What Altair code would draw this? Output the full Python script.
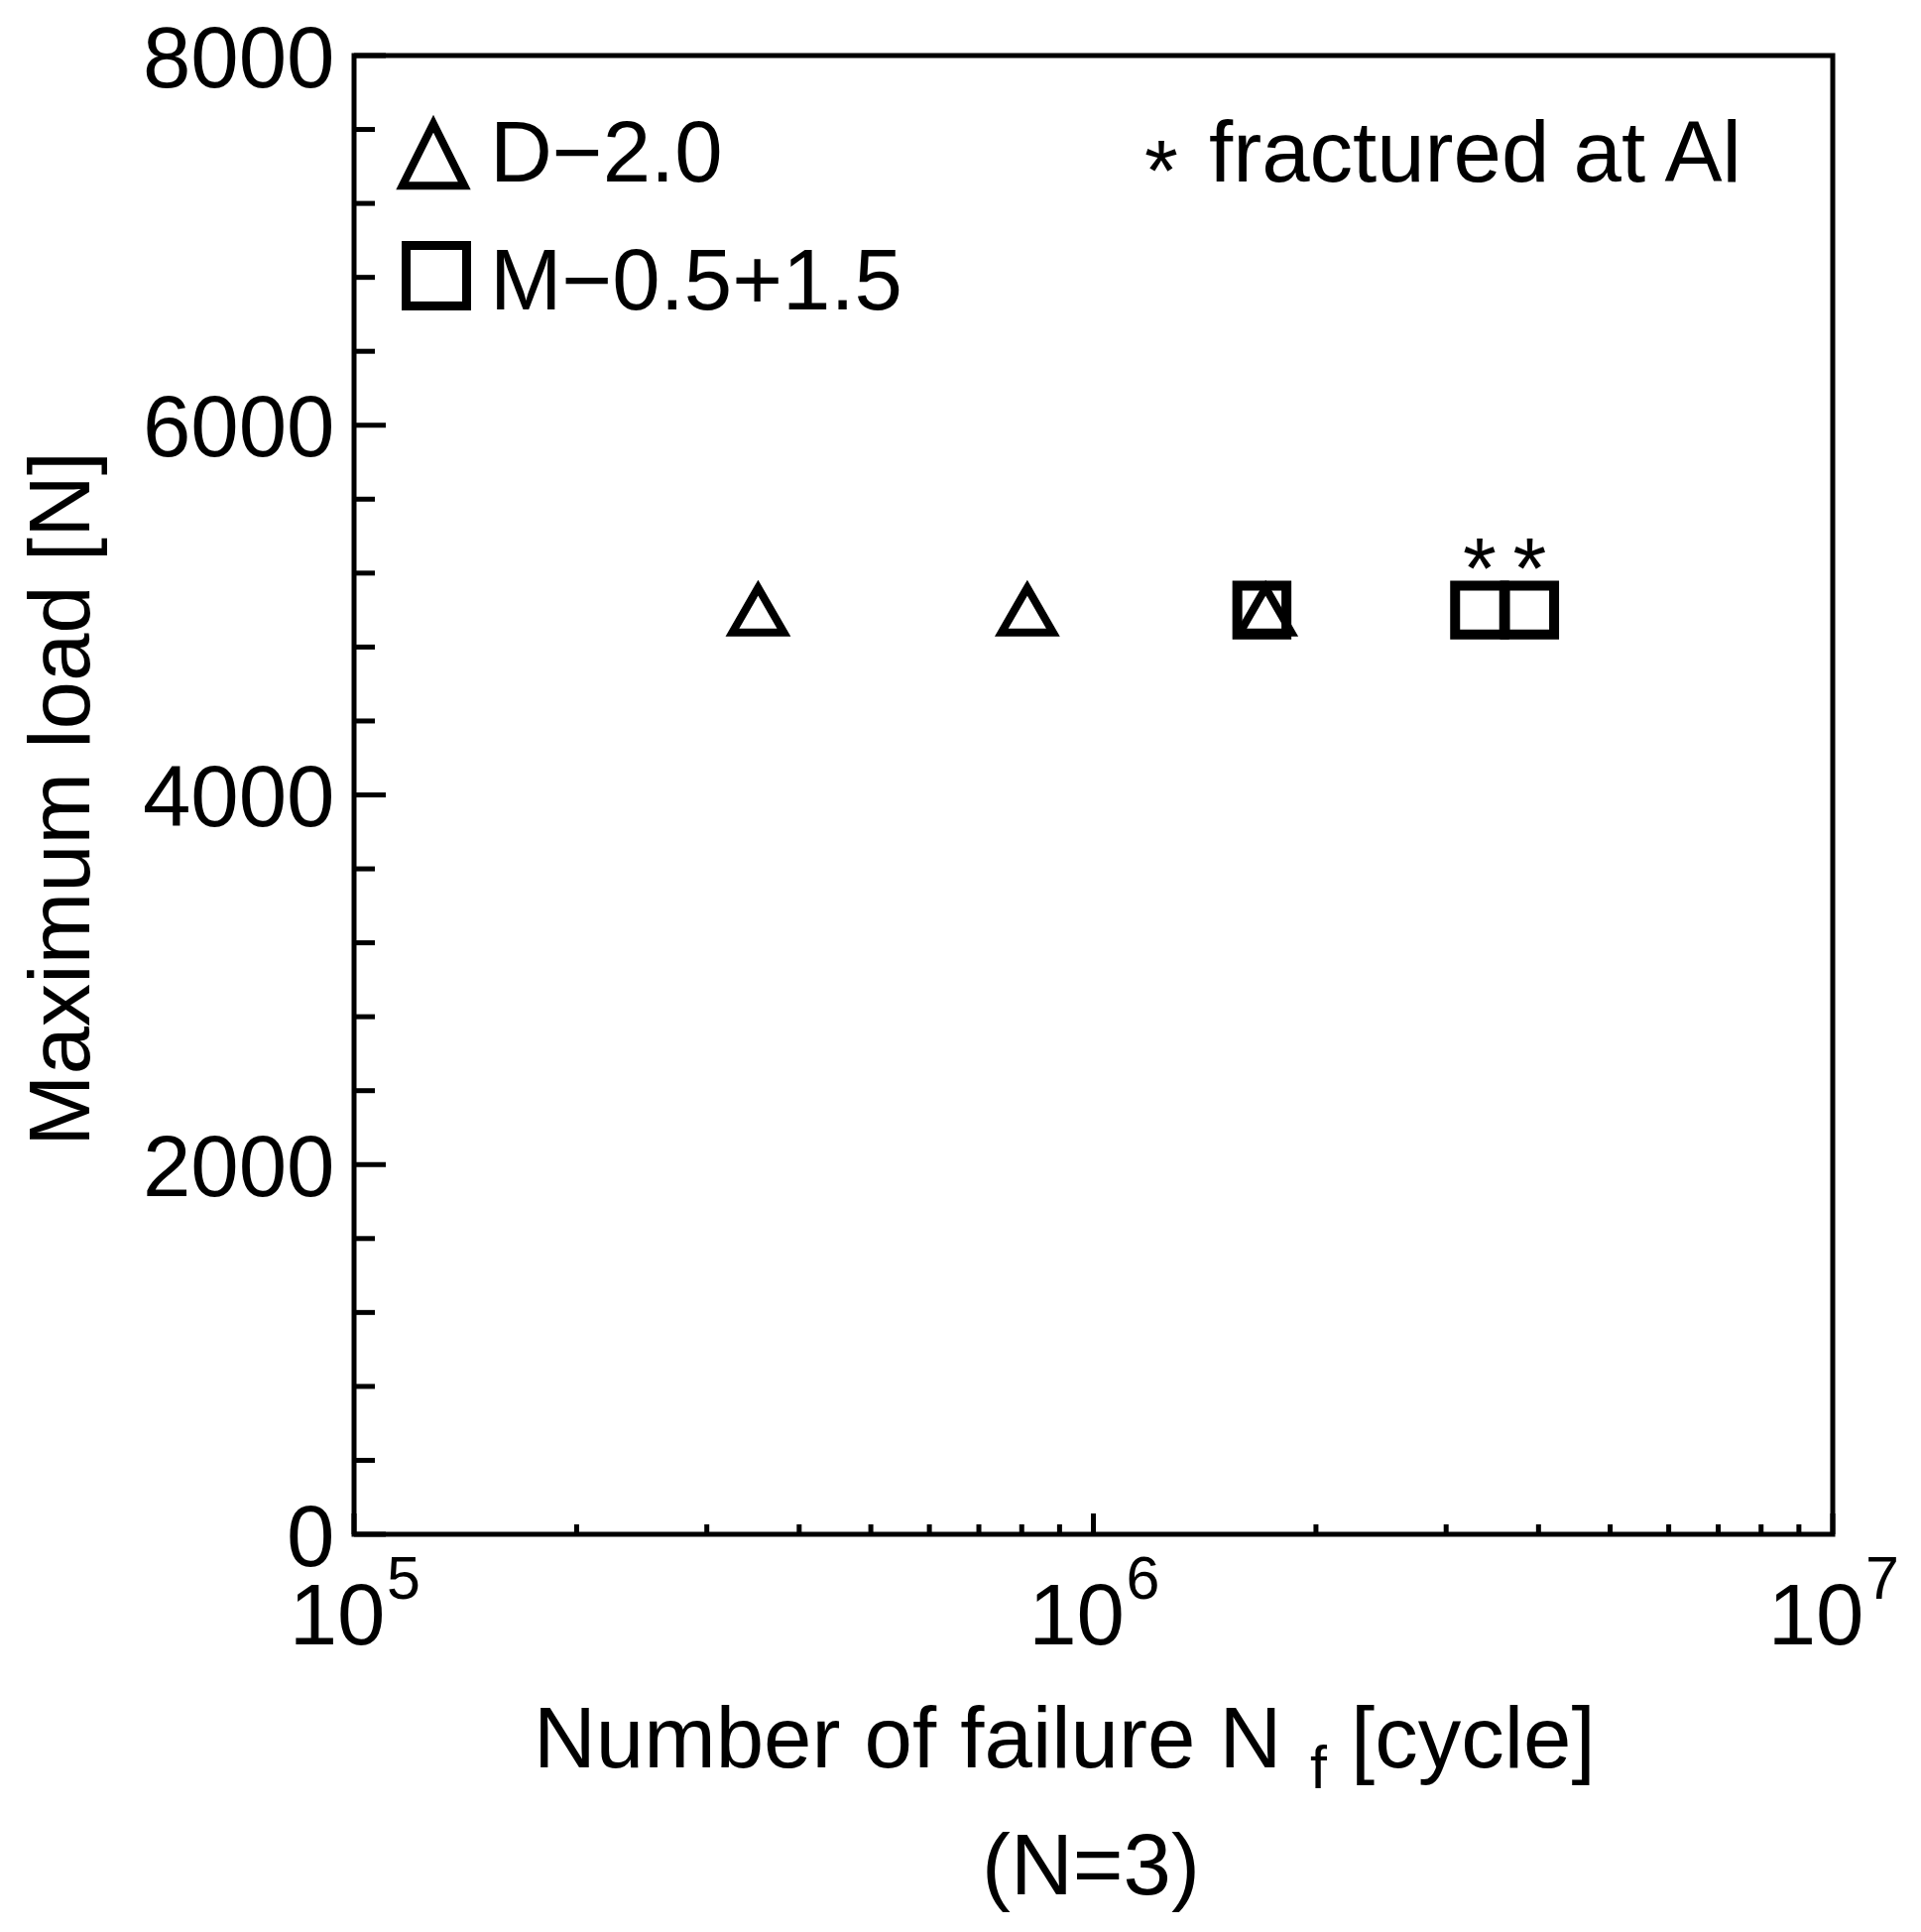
import altair as alt
import pandas as pd

FONT = "Liberation Sans"

# ---------------- data ----------------
d20_cycles = [3.52e5, 8.14e5, 1.71e6]
d20_load = [5000, 5000, 5000]
m_cycles = [1.69e6, 3.33e6, 3.89e6]
m_load = [5000, 5000, 5000]
m_fractured_al = [False, True, True]

x_major = [1e5, 1e6, 1e7]
x_exponents = ["5", "6", "7"]
x_minor = [2e5, 3e5, 4e5, 5e5, 6e5, 7e5, 8e5, 9e5,
           2e6, 3e6, 4e6, 5e6, 6e6, 7e6, 8e6, 9e6]
y_major = [0, 2000, 4000, 6000, 8000]
y_minor = [400, 800, 1200, 1600, 2400, 2800, 3200, 3600,
           4400, 4800, 5200, 5600, 6400, 6800, 7200, 7600]

legend_labels = ["D\u22122.0", "M\u22120.5+1.5"]
note_mark = "*"
note_text = "fractured at Al"
x_title_parts = ["Number of failure N", "f", "[cycle]"]
x_subtitle = "(N=3)"
y_title = "Maximum load [N]"

W = 1491
H = 1491

d20 = pd.DataFrame({"cycles": d20_cycles, "load": d20_load})
mm = pd.DataFrame({"cycles": m_cycles, "load": m_load, "al": m_fractured_al})
star_df = mm[mm["al"]].assign(star=note_mark)
xmaj = pd.DataFrame({"cycles": x_major, "exp": x_exponents})
xmin = pd.DataFrame({"cycles": x_minor})
ymaj = pd.DataFrame({"load": y_major})
ymin = pd.DataFrame({"load": y_minor})

xs = alt.Scale(type="log", domain=[1e5, 1e7], nice=False)
ys = alt.Scale(domain=[0, 8000], nice=False)

x_axis = alt.Axis(values=x_major, labelExpr="'10'", labelFont=FONT, labelFontSize=87,
                  labelColor="black", labelAlign="right", labelBaseline="alphabetic",
                  labelOffset=31, labelPadding=110, ticks=False, tickSize=0,
                  domain=False, grid=False, title=None, labelFlush=False,
                  labelOverlap=False, labelLimit=0)
y_axis = alt.Axis(values=y_major, labelFont=FONT, labelFontSize=87, labelColor="black",
                  labelAlign="right", labelBaseline="alphabetic", labelOffset=31,
                  labelPadding=20, ticks=False, tickSize=0, domain=False, grid=False,
                  format="d", labelFlush=False, labelOverlap=False, labelLimit=0,
                  title=y_title, titleFont=FONT, titleFontSize=87,
                  titleFontWeight="normal", titleColor="black", titleAngle=270,
                  titleBaseline="alphabetic", titleAlign="center",
                  titleX=-268, titleY=749, titleLimit=0)

X = alt.X("cycles:Q", scale=xs, axis=x_axis)
Y = alt.Y("load:Q", scale=ys, axis=y_axis)

tri = alt.Chart(d20).mark_point(shape="triangle-up", filled=False, size=2700,
                                strokeWidth=8, color="black", opacity=1).encode(x=X, y=Y)
sq = alt.Chart(mm).mark_point(shape="square", filled=False, size=2450,
                              strokeWidth=10, color="black", opacity=1).encode(x=X, y=Y)
stars = alt.Chart(star_df).mark_text(font=FONT, fontSize=87, color="black",
                                      align="center", baseline="alphabetic", dy=-12).encode(
    x=X, y=Y, text="star:N")

# inward ticks
xmaj_t = alt.Chart(xmaj).mark_rule(color="black", strokeWidth=5).encode(
    x=X, y=alt.value(H), y2=alt.value(H - 21))
xmin_t = alt.Chart(xmin).mark_rule(color="black", strokeWidth=5).encode(
    x=X, y=alt.value(H), y2=alt.value(H - 10))
ymaj_t = alt.Chart(ymaj).mark_rule(color="black", strokeWidth=5).encode(
    y=Y, x=alt.value(0), x2=alt.value(32))
ymin_t = alt.Chart(ymin).mark_rule(color="black", strokeWidth=5).encode(
    y=Y, x=alt.value(0), x2=alt.value(21))

# exponents of the x tick labels
exps = alt.Chart(xmaj).mark_text(font=FONT, fontSize=61, color="black", align="left",
                                 baseline="alphabetic", dx=33).encode(
    x=X, y=alt.value(1556), text="exp:N")

# x axis title pieces
def txt(df, field, x, y, size, align="left"):
    return alt.Chart(df).mark_text(font=FONT, fontSize=size, color="black", align=align,
                                   baseline="alphabetic").encode(
        x=alt.value(x), y=alt.value(y), text=f"{field}:N")

t1 = txt(pd.DataFrame({"t": [x_title_parts[0]]}), "t", 181, 1726, 87)
t2 = txt(pd.DataFrame({"t": [x_title_parts[1]]}), "t", 964, 1747, 61)
t3 = txt(pd.DataFrame({"t": [x_title_parts[2]]}), "t", 1005, 1726, 87)
t4 = txt(pd.DataFrame({"t": [x_subtitle]}), "t", 743, 1854, 87, align="center")

# legend (drawn inside the frame, top-left)
leg_tri = alt.Chart(pd.DataFrame({"l": [legend_labels[0]]})).mark_point(
    shape="M0,-1L1,1L-1,1Z", filled=False, size=3900, strokeWidth=8,
    color="black", opacity=1).encode(x=alt.value(80), y=alt.value(100))
leg_sq = alt.Chart(pd.DataFrame({"l": [legend_labels[1]]})).mark_point(
    shape="square", filled=False, size=3721, strokeWidth=9,
    color="black", opacity=1).encode(x=alt.value(83), y=alt.value(222))
leg_t1 = txt(pd.DataFrame({"l": [legend_labels[0]]}), "l", 137, 127, 87)
leg_t2 = txt(pd.DataFrame({"l": [legend_labels[1]]}), "l", 137, 256, 87)

note_star = txt(pd.DataFrame({"s": [note_mark]}), "s", 814, 146, 87, align="center")
note_t = txt(pd.DataFrame({"s": [note_text]}), "s", 862, 127, 87)

chart = alt.layer(
    tri, sq, stars, xmaj_t, xmin_t, ymaj_t, ymin_t, exps,
    t1, t2, t3, t4, leg_tri, leg_sq, leg_t1, leg_t2, note_star, note_t,
).properties(
    width=W, height=H,
    background="white",
    autosize=alt.AutoSizeParams(type="none"),
    padding={"left": 349, "top": 48, "right": 80, "bottom": 390},
).configure_view(
    stroke="black", strokeWidth=5, fill="white"
)

chart.save("out.html", embed_options={"renderer": "svg", "actions": False})
